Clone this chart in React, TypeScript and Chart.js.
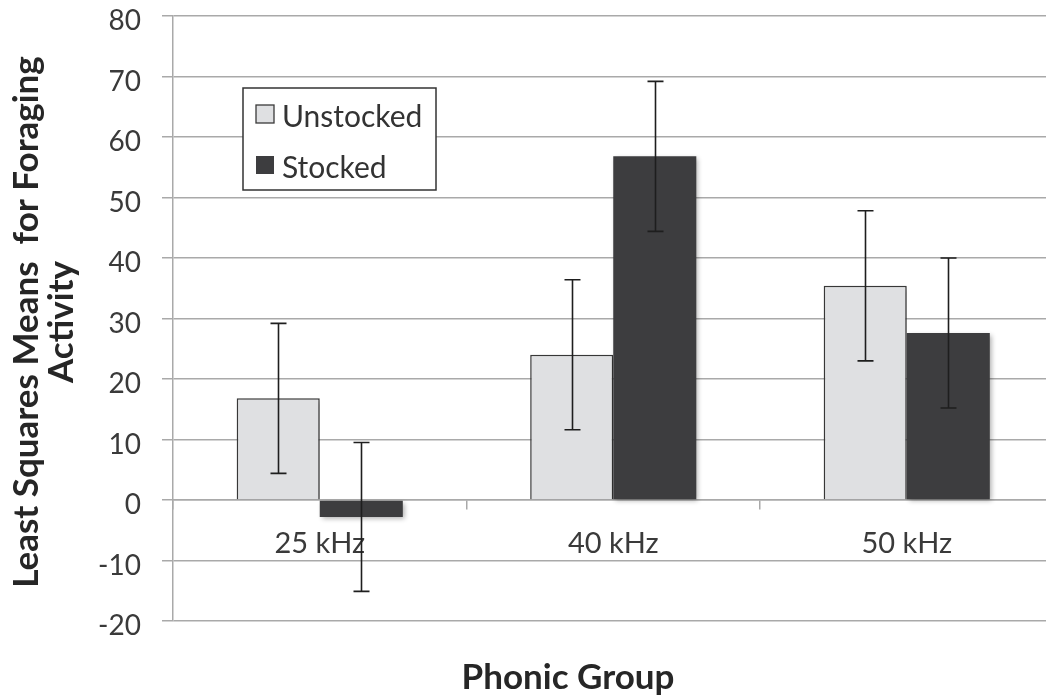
import React, { useEffect, useRef } from "react";
import { Chart, registerables } from "chart.js";

Chart.register(...registerables);

// Phonic group categories and the two treatment series (least squares means ± error)
const categories = ["25 kHz", "40 kHz", "50 kHz"];
const seriesNames = ["Unstocked", "Stocked"];
const unstockedMeans = [16.8, 24.0, 35.4];
const stockedMeans = [-2.8, 56.8, 27.6];
const unstockedErrors = [12.4, 12.4, 12.4];
const stockedErrors = [12.3, 12.4, 12.4];
const yTickValues = [-20, -10, 0, 10, 20, 30, 40, 50, 60, 70, 80];
const yAxisTitleLines = ["Least Squares Means  for Foraging", "Activity"];
const xAxisTitle = "Phonic Group";

const FONT = "Lato, 'Noto Sans', sans-serif";
const GRID = "#a9a9a9";
const LIGHT = "#dfe0e2";
const DARK = "#3d3d3f";
const EDGE = "#3a3a3a";

const errorSets = [unstockedErrors, stockedErrors];
const meanSets = [unstockedMeans, stockedMeans];

// soft drop shadow under the bars
const barShadow = {
  id: "barShadow",
  beforeDatasetsDraw(chart: any) {
    const ctx = chart.ctx;
    ctx.save();
    ctx.shadowColor = "rgba(0,0,0,0.32)";
    ctx.shadowBlur = 5;
    ctx.shadowOffsetX = 2;
    ctx.shadowOffsetY = 2;
  },
  afterDatasetsDraw(chart: any) {
    chart.ctx.restore();
  },
};

// vertical error bars with caps
const errorBars = {
  id: "errorBars",
  afterDatasetsDraw(chart: any) {
    const ctx = chart.ctx;
    const y = chart.scales.y;
    ctx.save();
    ctx.strokeStyle = "#1e1e1e";
    ctx.lineWidth = 1.6;
    meanSets.forEach((means, d) => {
      const meta = chart.getDatasetMeta(d);
      meta.data.forEach((bar: any, i: number) => {
        const hi = y.getPixelForValue(means[i] + errorSets[d][i]);
        const lo = y.getPixelForValue(means[i] - errorSets[d][i]);
        const x = Math.round(bar.x) + 0.5;
        const cap = 8;
        ctx.beginPath();
        ctx.moveTo(x, hi);
        ctx.lineTo(x, lo);
        ctx.moveTo(x - cap, hi);
        ctx.lineTo(x + cap, hi);
        ctx.moveTo(x - cap, lo);
        ctx.lineTo(x + cap, lo);
        ctx.stroke();
      });
    });
    ctx.restore();
  },
};

// boxed legend inside the plot and the axis titles
const annotations = {
  id: "annotations",
  afterDraw(chart: any) {
    const ctx = chart.ctx;
    const area = chart.chartArea;
    ctx.save();

    // legend box
    const bx = area.left + 70;
    const by = area.top + 72;
    const bw = 193;
    const bh = 102;
    ctx.fillStyle = "#ffffff";
    ctx.fillRect(bx, by, bw, bh);
    ctx.strokeStyle = "#333333";
    ctx.lineWidth = 1.5;
    ctx.strokeRect(bx, by, bw, bh);
    const fills = [LIGHT, DARK];
    seriesNames.forEach((name, k) => {
      const sy = by + 17 + k * 51;
      ctx.fillStyle = fills[k];
      ctx.fillRect(bx + 13, sy, 18, 18);
      if (k === 0) {
        ctx.strokeStyle = EDGE;
        ctx.lineWidth = 1.3;
        ctx.strokeRect(bx + 13, sy, 18, 18);
      }
      ctx.fillStyle = "#333333";
      ctx.font = `30px ${FONT}`;
      ctx.textAlign = "left";
      ctx.textBaseline = "alphabetic";
      ctx.fillText(name, bx + 39, sy + 21.5);
    });

    // y-axis title, two rotated lines
    ctx.fillStyle = "#262626";
    ctx.font = `bold 35px ${FONT}`;
    ctx.textAlign = "center";
    ctx.textBaseline = "alphabetic";
    const lineSpots = [
      { x: 38, y: 322 },
      { x: 73, y: 322 },
    ];
    yAxisTitleLines.forEach((line, k) => {
      ctx.save();
      ctx.translate(lineSpots[k].x, lineSpots[k].y);
      ctx.rotate(-Math.PI / 2);
      ctx.fillText(line, 0, 0);
      ctx.restore();
    });

    // x-axis title
    ctx.fillText(xAxisTitle, 568, 689);
    ctx.restore();
  },
};

export default function App() {
  const canvasRef = useRef<HTMLCanvasElement | null>(null);

  useEffect(() => {
    const canvas = canvasRef.current;
    if (!canvas) return;
    const chart = new Chart(canvas, {
      type: "bar",
      data: {
        labels: categories,
        datasets: [
          {
            label: seriesNames[0],
            data: unstockedMeans,
            backgroundColor: LIGHT,
            borderColor: EDGE,
            borderWidth: 1.5,
            categoryPercentage: 0.566,
            barPercentage: 1.0,
          },
          {
            label: seriesNames[1],
            data: stockedMeans,
            backgroundColor: DARK,
            borderColor: DARK,
            borderWidth: 0,
            categoryPercentage: 0.566,
            barPercentage: 1.0,
          },
        ],
      },
      options: {
        responsive: false,
        animation: false,
        events: [],
        layout: { padding: { left: 0, top: 16, right: 6.5, bottom: 75 } },
        plugins: {
          legend: { display: false },
          tooltip: { enabled: false },
          title: { display: false },
        },
        scales: {
          x: {
            type: "category",
            position: { y: 0 } as any,
            offset: true,
            grid: {
              display: true,
              drawOnChartArea: false,
              drawTicks: true,
              tickLength: 9,
              color: GRID,
              lineWidth: 1.5,
              offset: true,
            },
            border: { display: true, color: GRID, width: 1.5 },
            ticks: {
              font: { family: FONT, size: 29 },
              color: "#3a3a3a",
              padding: 17,
              maxRotation: 0,
            },
          },
          y: {
            type: "linear",
            position: "left",
            min: -20,
            max: 80,
            afterBuildTicks: (scale: any) => {
              scale.ticks = yTickValues.map((v) => ({ value: v }));
            },
            afterFit: (scale: any) => {
              scale.width = 173;
              scale.paddingTop = 0;
              scale.paddingBottom = 0;
            },
            grid: {
              color: GRID,
              lineWidth: 1.5,
              tickLength: 11,
              drawTicks: true,
            },
            border: { display: true, color: GRID, width: 1.5 },
            ticks: {
              font: { family: FONT, size: 28 },
              color: "#3a3a3a",
              padding: 21,
              labelOffset: 5,
            },
          },
        },
      },
      plugins: [barShadow, errorBars, annotations],
    });
    return () => chart.destroy();
  }, []);

  return (
    <div
      style={{
        position: "fixed",
        left: 0,
        top: 0,
        width: 1046,
        height: 696,
        overflow: "hidden",
        background: "#ffffff",
      }}
    >
      <canvas ref={canvasRef} width={1060} height={696} style={{ display: "block" }} />
    </div>
  );
}
